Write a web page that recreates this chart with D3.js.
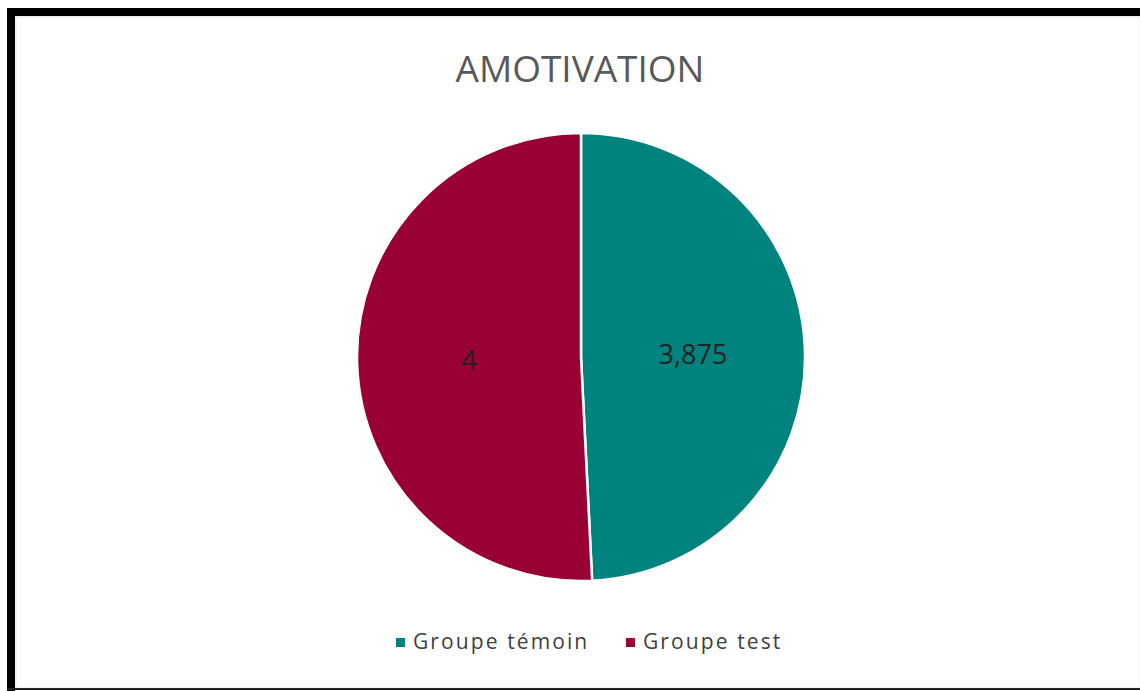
<!DOCTYPE html>
<html>
<head>
<meta charset="utf-8">
<script src="https://cdn.jsdelivr.net/npm/d3@7"></script>
<style>
html,body{margin:0;padding:0;background:#fff;}
svg{display:block;}
</style>
</head>
<body>
<svg id="chart" width="1140" height="691"></svg>
<script>
const title = "AMOTIVATION";
const categories = ["Groupe témoin", "Groupe test"];
const values = [3.875, 4];
const valueLabels = ["3,875", "4"];
const colors = ["#00827f", "#990033"];

const svg = d3.select("#chart");
const W = 1140, H = 691;

// frame
svg.append("rect").attr("x",0).attr("y",0).attr("width",W).attr("height",H).attr("fill","#fff");
svg.append("rect").attr("x",16).attr("y",17).attr("width",W-16).attr("height",671)
  .attr("fill","none").attr("stroke","#e6e6e6").attr("stroke-width",1);
svg.append("rect").attr("x",7).attr("y",8).attr("width",W-7).attr("height",8).attr("fill","#000");
svg.append("rect").attr("x",7).attr("y",8).attr("width",8).attr("height",H-8).attr("fill","#000");
svg.append("rect").attr("x",7).attr("y",688).attr("width",W-7).attr("height",2).attr("fill","#222");

// title
svg.append("text").attr("x",580).attr("y",82).attr("text-anchor","middle")
  .attr("font-family","'Open Sans', sans-serif").attr("font-size",37)
  .attr("fill","#595959").text(title);

// pie
const cx = 581, cy = 357, r = 224;
const data = categories.map((c,i)=>({cat:c, value:values[i], label:valueLabels[i], color:colors[i]}));
const pie = d3.pie().sort(null).value(d=>d.value);
const arc = d3.arc().innerRadius(0).outerRadius(r);
const labelArc = d3.arc().innerRadius(r*0.5).outerRadius(r*0.5);
const g = svg.append("g").attr("transform",`translate(${cx},${cy})`);
const arcs = pie(data);
g.selectAll("path.slice").data(arcs).enter().append("path")
  .attr("class","slice").attr("d",arc).attr("fill",d=>d.data.color)
  .attr("stroke","#fff").attr("stroke-width",2.5).attr("stroke-linejoin","round");
g.selectAll("text.lbl").data(arcs).enter().append("text")
  .attr("class","lbl")
  .attr("transform",d=>`translate(${labelArc.centroid(d)})`)
  .attr("text-anchor","middle").attr("dy","0.36em")
  .attr("font-family","'Open Sans', sans-serif").attr("font-size",27)
  .attr("fill","#222").text(d=>d.data.label);

// legend
const legendX = [396, 626];
const lg = svg.append("g");
data.forEach((d,i)=>{
  lg.append("rect").attr("x",legendX[i]).attr("y",638).attr("width",9).attr("height",9).attr("fill",d.color);
  lg.append("text").attr("x",legendX[i]+17).attr("y",649)
    .attr("font-family","'Open Sans', sans-serif").attr("font-size",21)
    .attr("letter-spacing","2.1px")
    .attr("fill","#404040").text(d.cat);
});
</script>
</body>
</html>
